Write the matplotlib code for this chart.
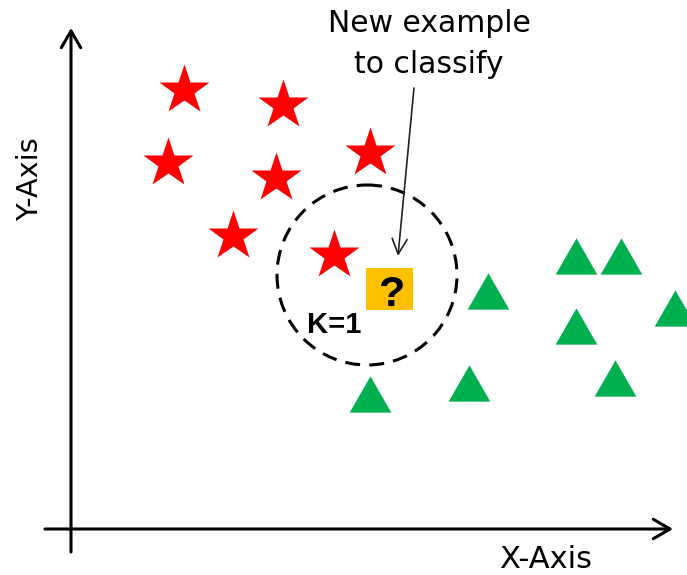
import matplotlib.pyplot as plt
from matplotlib.patches import Circle, Rectangle

# pixel-space positions (x right, y down)
star_x = [184, 283, 168, 276, 370, 233, 334]
star_y = [90, 105, 163, 178, 153, 236, 255]
tri_x = [488, 576, 621, 675, 576, 615, 469, 370]
tri_y = [291, 256, 256, 308, 326, 378, 383, 394]
new_point = (366, 268, 47, 42)      # x, y, w, h of the "?" box
circle_center = (367, 275)
circle_r = 90

fig = plt.figure(figsize=(6.87, 5.75), dpi=100)
ax = fig.add_axes([0, 0, 1, 1])
ax.set_xlim(0, 687)
ax.set_ylim(575, 0)
ax.axis('off')

# axes with arrows
ax.annotate('', xy=(71, 28), xytext=(71, 552),
            arrowprops=dict(arrowstyle='->,head_length=0.6,head_width=0.35',
                            lw=2.2, color='black', mutation_scale=20,
                            shrinkA=0, shrinkB=0))
ax.annotate('', xy=(673, 529), xytext=(45, 529),
            arrowprops=dict(arrowstyle='->,head_length=0.6,head_width=0.35',
                            lw=2.2, color='black', mutation_scale=20,
                            shrinkA=0, shrinkB=0))

ax.text(546, 568, 'X-Axis', ha='center', va='baseline', fontsize=22, color='black')
ax.text(38, 179, 'Y-Axis', ha='center', va='baseline', rotation=90,
        rotation_mode='anchor', fontsize=20.7, color='black')

# classes
ax.plot(star_x, star_y, linestyle='none', marker='*', ms=38,
        color='#ff0000', mec='none')
tri = [(-1, -0.87), (1, -0.87), (0, 0.87)]
ax.plot(tri_x, tri_y, linestyle='none', marker=tri, ms=30,
        color='#00b050', mec='none')

# neighbourhood circle
ax.add_patch(Circle(circle_center, circle_r, fill=False, ec='black', lw=2.2,
                    linestyle=(0, (4.9, 3))))

# new sample
bx, by, bw, bh = new_point
ax.add_patch(Rectangle((bx, by), bw, bh, color='#ffc000', ec='none'))
ax.text(392, 306, '?', ha='center', va='baseline', fontsize=31,
        fontweight='bold', family='Liberation Sans', color='black')
ax.text(334, 333, 'K=1', ha='center', va='baseline', fontsize=21,
        fontweight='bold', family='Liberation Sans', color='black')

ax.text(429, 32, 'New example', ha='center', va='baseline', fontsize=21.5, color='black')
ax.text(429, 73, 'to classify', ha='center', va='baseline', fontsize=21.5, color='black')
ax.annotate('', xy=(398, 256), xytext=(414, 88),
            arrowprops=dict(arrowstyle='->,head_length=0.55,head_width=0.27',
                            lw=1.2, color='#222222', mutation_scale=20,
                            shrinkA=0, shrinkB=0))

fig.savefig('out.png', dpi=100)
